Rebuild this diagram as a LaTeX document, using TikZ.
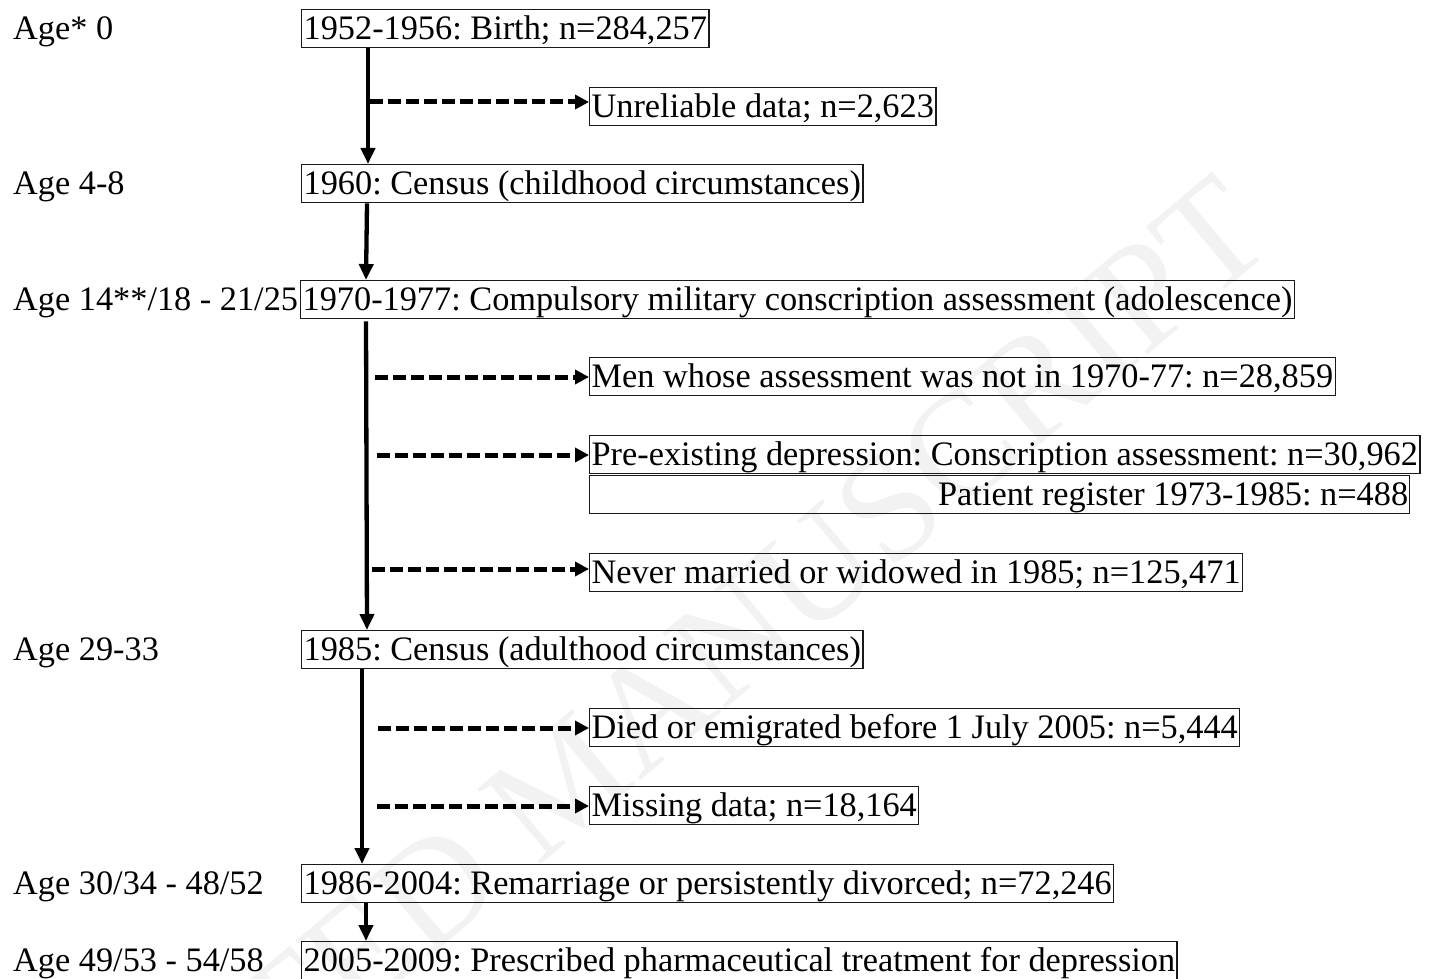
\documentclass[tikz,border=0pt]{standalone}
\usepackage{fontspec}
\setmainfont{Liberation Serif}
\usetikzlibrary{arrows.meta}
\begin{document}
\frenchspacing
\begin{tikzpicture}[x=1pt,y=-1pt,
  box/.style={draw=black!90, line width=1.3pt, inner xsep=2pt, inner ysep=0pt,
    text height=30pt, text depth=8pt, anchor=north west,
    font=\fontsize{34.3}{40}\selectfont},
  lab/.style={inner xsep=0pt, inner ysep=0pt, text height=30pt, text depth=8pt,
    anchor=north west, font=\fontsize{34.3}{40}\selectfont},
  trunk/.style={line width=4.3pt, -{Triangle[length=16pt,width=14pt]}},
  excl/.style={line width=5pt, dash pattern=on 13pt off 5pt,
    -{Triangle[length=14pt,width=14pt]}},
  wm/.style={rotate=40, text=black!5, inner sep=0pt,
    font=\fontsize{150}{150}\selectfont}
]
\useasboundingbox (0,0) rectangle (1432,979);
\fill[white] (0,0) rectangle (1432,979);
% watermark
\node[wm] (wmark) at (565,780) {ACCEPTED MANUSCRIPT};

% age labels
\node[lab] (l1) at (13,9) {Age* 0};
\node[lab] (l2) at (13,164) {Age 4-8};
\node[lab] (l3) at (13,280) {Age 14**/18 - 21/25};
\node[lab] (l4) at (13,630) {Age 29-33};
\node[lab] (l5) at (13,864) {Age 30/34 - 48/52};
\node[lab] (l6) at (13,941) {Age 49/53 - 54/58};

% main boxes
\node[box] (b1) at (301,9) {1952-1956: Birth; n=284,257};
\node[box] (b2) at (301,164) {1960: Census (childhood circumstances)};
\node[box] (b3) at (300,280) {1970-1977: Compulsory military conscription assessment (adolescence)};
\node[box] (b4) at (301,630) {1985: Census (adulthood circumstances)};
\node[box] (b5) at (301,864) {1986-2004: Remarriage or persistently divorced; n=72,246};
\node[box] (b6) at (301,941) {2005-2009: Prescribed pharmaceutical treatment for depression};

% exclusion boxes
\node[box] (ea) at (589,87) {Unreliable data; n=2,623};
\node[box] (eb) at (589,357) {Men whose assessment was not in 1970-77: n=28,859};
\node[box] (ec) at (589,435) {Pre-existing depression: Conscription assessment: n=30,962};
\node[box, minimum width=820pt] (ed) at (589,475) {};
\node[lab, anchor=north east, inner xsep=2pt] (edt) at (ed.north east) {Patient register 1973-1985: n=488};
\node[box] (ee) at (589,553) {Never married or widowed in 1985; n=125,471};
\node[box] (ef) at (589,708) {Died or emigrated before 1 July 2005: n=5,444};
\node[box] (eg) at (589,786) {Missing data; n=18,164};

% trunk arrows
\draw[trunk] ([xshift=67pt]b1.south west) -- ([xshift=67pt]b2.north west);
\draw[trunk] ([xshift=66pt]b2.south west) -- ([xshift=66pt]b3.north west);
\draw[trunk] ([xshift=66pt,yshift=-2pt]b3.south west) -- ([xshift=66pt]b4.north west);
\draw[trunk] ([xshift=61pt]b4.south west) -- ([xshift=61pt]b5.north west);
\draw[trunk] ([xshift=65pt]b5.south west) -- ([xshift=65pt]b6.north west);

% exclusion arrows
\coordinate (sa) at (370,102);
\coordinate (sb) at (375,377);
\coordinate (sc) at (377,455);
\coordinate (se) at (372,569);
\coordinate (sf) at (378,728);
\coordinate (sg) at (377,806);
\draw[excl] (sa) -- (sa -| ea.west);
\draw[excl] (sb) -- (sb -| eb.west);
\draw[excl] (sc) -- (sc -| ec.west);
\draw[excl] (se) -- (se -| ee.west);
\draw[excl] (sf) -- (sf -| ef.west);
\draw[excl] (sg) -- (sg -| eg.west);
\end{tikzpicture}
\end{document}
